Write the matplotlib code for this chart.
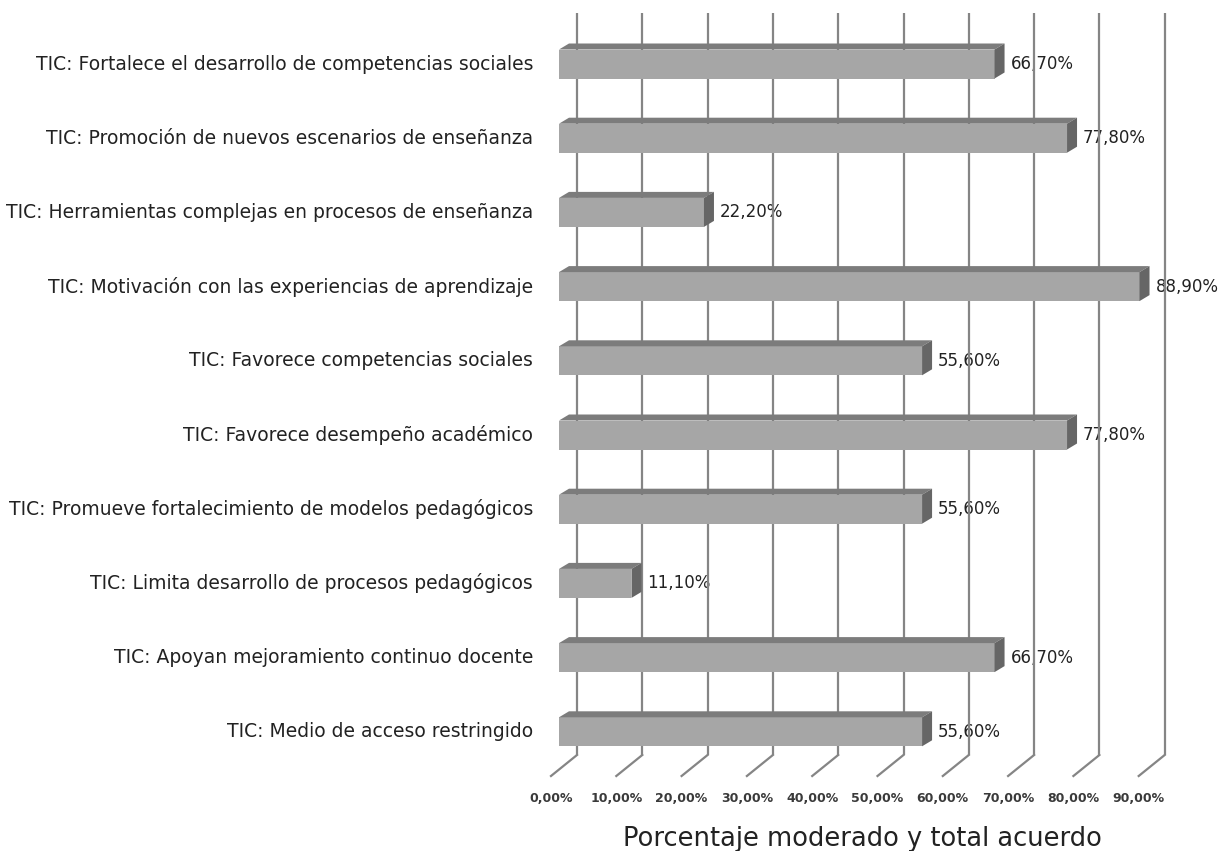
import matplotlib
matplotlib.use('Agg')
import matplotlib.pyplot as plt
from matplotlib.patches import Polygon

categories = [
    "TIC: Fortalece el desarrollo de competencias sociales",
    "TIC: Promoción de nuevos escenarios de enseñanza",
    "TIC: Herramientas complejas en procesos de enseñanza",
    "TIC: Motivación con las experiencias de aprendizaje",
    "TIC: Favorece competencias sociales",
    "TIC: Favorece desempeño académico",
    "TIC: Promueve fortalecimiento de modelos pedagógicos",
    "TIC: Limita desarrollo de procesos pedagógicos",
    "TIC: Apoyan mejoramiento continuo docente",
    "TIC: Medio de acceso restringido",
]
values = [66.7, 77.8, 22.2, 88.9, 55.6, 77.8, 55.6, 11.1, 66.7, 55.6]
ticks = [0, 10, 20, 30, 40, 50, 60, 70, 80, 90]
tick_labels = ["0,00%", "10,00%", "20,00%", "30,00%", "40,00%",
               "50,00%", "60,00%", "70,00%", "80,00%", "90,00%"]
xlabel = "Porcentaje moderado y total acuerdo"

W, H = 1224, 851
fig = plt.figure(figsize=(W / 100, H / 100), dpi=100)
x0_px, px_per_pct = 559.0, 6.53
y0_px, px_per_row = 64.0, 74.2
ax = fig.add_axes([x0_px / W, 0, 90 * px_per_pct / W, 1])
ax.set_xlim(0, 90)
ax.set_ylim((H - y0_px) / px_per_row, -y0_px / px_per_row)
ax.axis('off')


def dx(px):
    return px / px_per_pct


def dy(px):
    return px / px_per_row


def ypix(p):
    return (p - y0_px) / px_per_row


grid_col = '#858585'
front_col = '#a6a6a6'
top_col = '#7c7c7c'
side_col = '#666666'
text_col = '#222222'

# gridlines (back wall) + floor diagonals
y_top = ypix(13)
y_bot = ypix(755)
for t in ticks:
    xb = t + dx(18)
    ax.plot([xb, xb], [y_top, y_bot], color=grid_col, lw=1.6, zorder=1,
            solid_capstyle='butt', clip_on=False)
    ax.plot([xb, t - dx(8)], [y_bot, y_bot + dy(21)], color=grid_col, lw=1.6,
            zorder=1, clip_on=False)

for t, lab in zip(ticks, tick_labels):
    ax.text(t - dx(8), ypix(799), lab, ha='center', va='center', fontsize=9,
            color='#3a3a3a', fontweight='bold')

ax.text((862 - x0_px) / px_per_pct, ypix(839), xlabel, ha='center',
        va='center', fontsize=18.5, color=text_col)

# bars
h = 29 / px_per_row
ddx, ddy = dx(10), dy(6)
ypos = list(range(len(values)))
ax.barh(ypos, values, height=h, left=0, color=front_col, edgecolor='none',
        zorder=3)
for i, v in zip(ypos, values):
    yt = i - h / 2
    yb = i + h / 2
    ax.add_patch(Polygon([(0, yt), (v, yt), (v + ddx, yt - ddy), (ddx, yt - ddy)],
                         closed=True, facecolor=top_col, edgecolor='none',
                         zorder=3, clip_on=False))
    ax.add_patch(Polygon([(v, yt), (v, yb), (v + ddx, yb - ddy), (v + ddx, yt - ddy)],
                         closed=True, facecolor=side_col, edgecolor='none',
                         zorder=3, clip_on=False))
    ax.text(v + ddx + dx(6), i, f"{v:.2f}%".replace('.', ','), ha='left',
            va='center', fontsize=12, color=text_col, zorder=0.5)

for i, c in zip(ypos, categories):
    ax.text(-dx(26), i, c, ha='right', va='center', fontsize=13.5,
            color=text_col)

fig.savefig('out.png', dpi=100, facecolor='white')
